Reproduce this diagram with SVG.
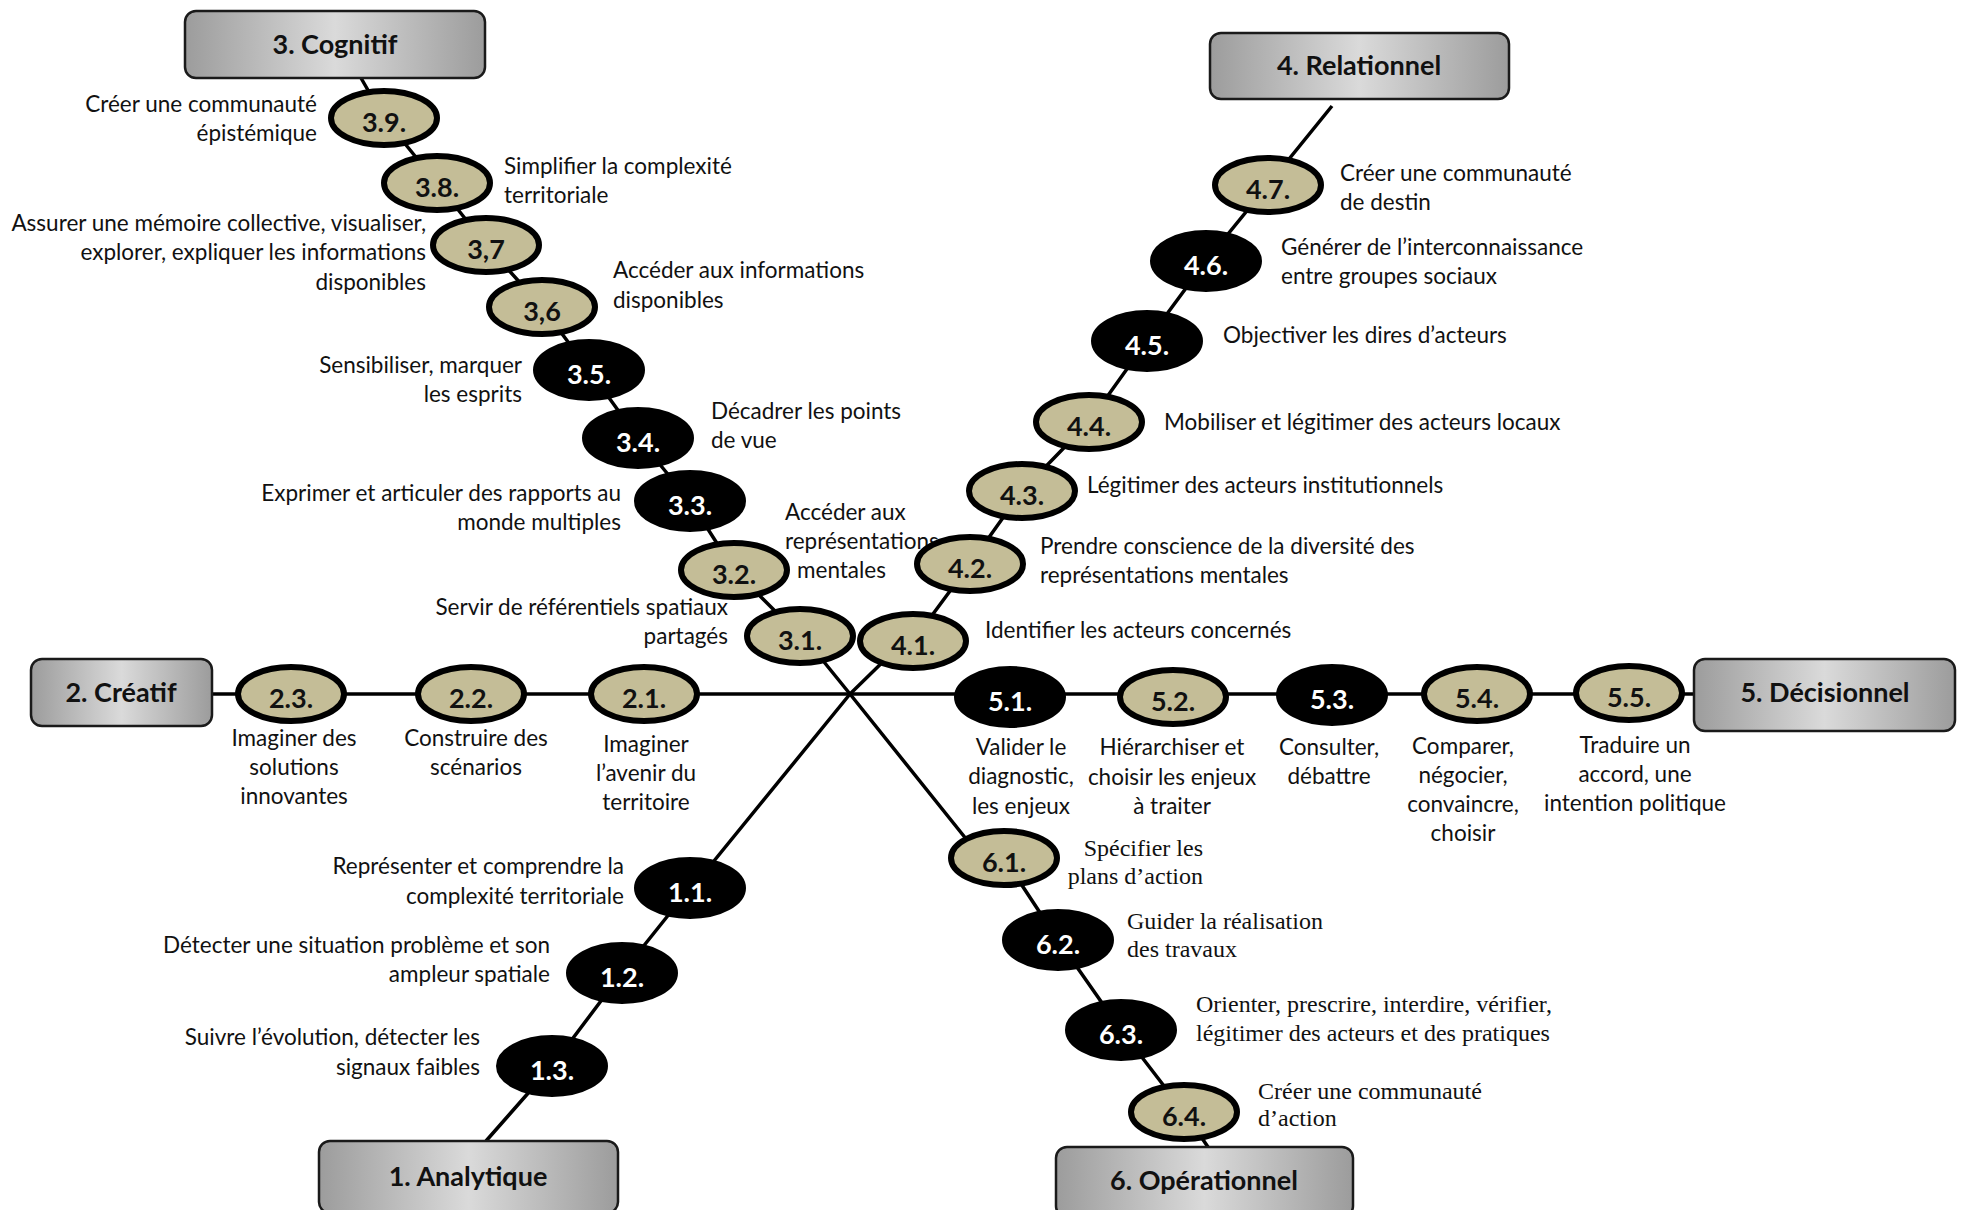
<svg xmlns="http://www.w3.org/2000/svg" width="1964" height="1210" viewBox="0 0 1964 1210">
<style>
.bg{fill:#ffffff}
.ln{fill:none;stroke:#000;stroke-width:3.5;stroke-linejoin:round}
.box{fill:url(#g);stroke:#1a1a1a;stroke-width:2.5}
.bt{font-family:Lato,"Liberation Sans",sans-serif;font-weight:700;font-size:27px;fill:#111;text-anchor:middle}
.tan{fill:#c4bd97;stroke:#000;stroke-width:6}
.blk{fill:#000;stroke:#000;stroke-width:2}
.nt{font-family:Lato,"Liberation Sans",sans-serif;font-weight:700;font-size:27px;fill:#111;text-anchor:middle}
.nw{font-family:Lato,"Liberation Sans",sans-serif;font-weight:700;font-size:27px;fill:#fff;text-anchor:middle}
.lb{font-family:Lato,"Liberation Sans",sans-serif;font-size:22.5px;fill:#111}
.tr{font-family:"Liberation Serif","Times New Roman",serif;font-size:24px;fill:#111}
.e{text-anchor:end}
.m{text-anchor:middle}
</style>
<defs>
<linearGradient id="g" x1="0" y1="0" x2="1" y2="0">
<stop offset="0" stop-color="#9c9c9c"/>
<stop offset="0.5" stop-color="#dadada"/>
<stop offset="1" stop-color="#9c9c9c"/>
</linearGradient>
</defs>
<rect class="bg" x="0" y="0" width="1964" height="1210"/>
<g id="connectors">
<line class="ln" x1="212" y1="694" x2="1694" y2="694"/>
<polyline class="ln" points="361,78 384,118 437,183 486,245 542,307 589,370 638,438 690,501 734,570 800,636 820,657 850,694 975,850 1004,858 1058,940 1121,1030 1184,1112 1208,1147"/>
<polyline class="ln" points="1332,106 1268,185 1206,261 1147,341 1089,422 1022,491 970,564 913,641 895,650 850,694 705,872 690,888 622,973 552,1066 486,1141"/>
</g>
<g id="box3"><rect class="box" x="185" y="11" width="300" height="67" rx="11"/><text class="bt" x="335" y="54">3. Cognitif</text></g>
<g id="box4"><rect class="box" x="1210" y="33" width="299" height="66" rx="11"/><text class="bt" x="1359" y="75">4. Relationnel</text></g>
<g id="box2"><rect class="box" x="31" y="659" width="181" height="67" rx="11"/><text class="bt" x="121" y="702">2. Créatif</text></g>
<g id="box5"><rect class="box" x="1694" y="659" width="261" height="72" rx="11"/><text class="bt" x="1825" y="702">5. Décisionnel</text></g>
<g id="box1"><rect class="box" x="319" y="1141" width="299" height="72" rx="11"/><text class="bt" x="468" y="1186">1. Analytique</text></g>
<g id="box6"><rect class="box" x="1056" y="1147" width="297" height="70" rx="11"/><text class="bt" x="1204" y="1190">6. Opérationnel</text></g>

<g id="n3_9"><ellipse class="tan" cx="384" cy="118" rx="53" ry="27"/><text class="nt" x="384" y="132">3.9.</text><text class="lb e" x="317" y="112">Créer une communauté</text><text class="lb e" x="317" y="141">épistémique</text></g>
<g id="n3_8"><ellipse class="tan" cx="437" cy="183" rx="53" ry="27"/><text class="nt" x="437" y="197">3.8.</text><text class="lb" x="504" y="174">Simplifier la complexité</text><text class="lb" x="504" y="203">territoriale</text></g>
<g id="n3_7"><ellipse class="tan" cx="486" cy="245" rx="53" ry="27"/><text class="nt" x="486" y="259">3,7</text><text class="lb e" x="426" y="231">Assurer une mémoire collective, visualiser,</text><text class="lb e" x="426" y="260">explorer, expliquer les informations</text><text class="lb e" x="426" y="290">disponibles</text></g>
<g id="n3_6"><ellipse class="tan" cx="542" cy="307" rx="53" ry="27"/><text class="nt" x="542" y="321">3,6</text><text class="lb" x="613" y="278">Accéder aux informations</text><text class="lb" x="613" y="308">disponibles</text></g>
<g id="n3_5"><ellipse class="blk" cx="589" cy="370" rx="55" ry="30"/><text class="nw" x="589" y="384">3.5.</text><text class="lb e" x="522" y="373">Sensibiliser, marquer</text><text class="lb e" x="522" y="402">les esprits</text></g>
<g id="n3_4"><ellipse class="blk" cx="638" cy="438" rx="55" ry="30"/><text class="nw" x="638" y="452">3.4.</text><text class="lb" x="711" y="419">Décadrer les points</text><text class="lb" x="711" y="448">de vue</text></g>
<g id="n3_3"><ellipse class="blk" cx="690" cy="501" rx="55" ry="30"/><text class="nw" x="690" y="515">3.3.</text><text class="lb e" x="621" y="501">Exprimer et articuler des rapports au</text><text class="lb e" x="621" y="530">monde multiples</text></g>
<g id="n3_2"><ellipse class="tan" cx="734" cy="570" rx="53" ry="27"/><text class="nt" x="734" y="584">3.2.</text><text class="lb" x="785" y="520">Accéder aux</text><text class="lb" x="785" y="549">représentations</text><text class="lb" x="797" y="578">mentales</text></g>
<g id="n3_1"><ellipse class="tan" cx="800" cy="636" rx="53" ry="27"/><text class="nt" x="800" y="650">3.1.</text><text class="lb e" x="728" y="615">Servir de référentiels spatiaux</text><text class="lb e" x="728" y="644">partagés</text></g>

<g id="n4_7"><ellipse class="tan" cx="1268" cy="185" rx="53" ry="27"/><text class="nt" x="1268" y="199">4.7.</text><text class="lb" x="1340" y="181">Créer une communauté</text><text class="lb" x="1340" y="210">de destin</text></g>
<g id="n4_6"><ellipse class="blk" cx="1206" cy="261" rx="55" ry="30"/><text class="nw" x="1206" y="275">4.6.</text><text class="lb" x="1281" y="255">Générer de l’interconnaissance</text><text class="lb" x="1281" y="284">entre groupes sociaux</text></g>
<g id="n4_5"><ellipse class="blk" cx="1147" cy="341" rx="55" ry="30"/><text class="nw" x="1147" y="355">4.5.</text><text class="lb" x="1223" y="343">Objectiver les dires d’acteurs</text></g>
<g id="n4_4"><ellipse class="tan" cx="1089" cy="422" rx="53" ry="27"/><text class="nt" x="1089" y="436">4.4.</text><text class="lb" x="1164" y="430">Mobiliser et légitimer des acteurs locaux</text></g>
<g id="n4_3"><ellipse class="tan" cx="1022" cy="491" rx="53" ry="27"/><text class="nt" x="1022" y="505">4.3.</text><text class="lb" x="1087" y="493">Légitimer des acteurs institutionnels</text></g>
<g id="n4_2"><ellipse class="tan" cx="970" cy="564" rx="53" ry="27"/><text class="nt" x="970" y="578">4.2.</text><text class="lb" x="1040" y="554">Prendre conscience de la diversité des</text><text class="lb" x="1040" y="583">représentations mentales</text></g>
<g id="n4_1"><ellipse class="tan" cx="913" cy="641" rx="53" ry="27"/><text class="nt" x="913" y="655">4.1.</text><text class="lb" x="985" y="638">Identifier les acteurs concernés</text></g>

<g id="n2_3"><ellipse class="tan" cx="291" cy="694" rx="53" ry="27"/><text class="nt" x="291" y="708">2.3.</text><text class="lb m" x="294" y="746">Imaginer des</text><text class="lb m" x="294" y="775">solutions</text><text class="lb m" x="294" y="804">innovantes</text></g>
<g id="n2_2"><ellipse class="tan" cx="471" cy="694" rx="53" ry="27"/><text class="nt" x="471" y="708">2.2.</text><text class="lb m" x="476" y="746">Construire des</text><text class="lb m" x="476" y="775">scénarios</text></g>
<g id="n2_1"><ellipse class="tan" cx="644" cy="694" rx="53" ry="27"/><text class="nt" x="644" y="708">2.1.</text><text class="lb m" x="646" y="752">Imaginer</text><text class="lb m" x="646" y="781">l’avenir du</text><text class="lb m" x="646" y="810">territoire</text></g>

<g id="n5_1"><ellipse class="blk" cx="1010" cy="697" rx="55" ry="30"/><text class="nw" x="1010" y="711">5.1.</text><text class="lb m" x="1021" y="755">Valider le</text><text class="lb m" x="1021" y="784">diagnostic,</text><text class="lb m" x="1021" y="814">les enjeux</text></g>
<g id="n5_2"><ellipse class="tan" cx="1173" cy="697" rx="53" ry="27"/><text class="nt" x="1173" y="711">5.2.</text><text class="lb m" x="1172" y="755">Hiérarchiser et</text><text class="lb m" x="1172" y="785">choisir les enjeux</text><text class="lb m" x="1172" y="814">à traiter</text></g>
<g id="n5_3"><ellipse class="blk" cx="1332" cy="695" rx="55" ry="30"/><text class="nw" x="1332" y="709">5.3.</text><text class="lb m" x="1329" y="755">Consulter,</text><text class="lb m" x="1329" y="784">débattre</text></g>
<g id="n5_4"><ellipse class="tan" cx="1477" cy="694" rx="53" ry="27"/><text class="nt" x="1477" y="708">5.4.</text><text class="lb m" x="1463" y="754">Comparer,</text><text class="lb m" x="1463" y="783">négocier,</text><text class="lb m" x="1463" y="812">convaincre,</text><text class="lb m" x="1463" y="841">choisir</text></g>
<g id="n5_5"><ellipse class="tan" cx="1629" cy="693" rx="53" ry="27"/><text class="nt" x="1629" y="707">5.5.</text><text class="lb m" x="1635" y="753">Traduire un</text><text class="lb m" x="1635" y="782">accord, une</text><text class="lb m" x="1635" y="811">intention politique</text></g>

<g id="n1_1"><ellipse class="blk" cx="690" cy="888" rx="55" ry="30"/><text class="nw" x="690" y="902">1.1.</text><text class="lb e" x="624" y="874">Représenter et comprendre la</text><text class="lb e" x="624" y="904">complexité territoriale</text></g>
<g id="n1_2"><ellipse class="blk" cx="622" cy="973" rx="55" ry="30"/><text class="nw" x="622" y="987">1.2.</text><text class="lb e" x="550" y="953">Détecter une situation problème et son</text><text class="lb e" x="550" y="982">ampleur spatiale</text></g>
<g id="n1_3"><ellipse class="blk" cx="552" cy="1066" rx="55" ry="30"/><text class="nw" x="552" y="1080">1.3.</text><text class="lb e" x="480" y="1045">Suivre l’évolution, détecter les</text><text class="lb e" x="480" y="1075">signaux faibles</text></g>

<g id="n6_1"><ellipse class="tan" cx="1004" cy="858" rx="53" ry="27"/><text class="nt" x="1004" y="872">6.1.</text><text class="tr e" x="1203" y="856">Spécifier les</text><text class="tr e" x="1203" y="884">plans d’action</text></g>
<g id="n6_2"><ellipse class="blk" cx="1058" cy="940" rx="55" ry="30"/><text class="nw" x="1058" y="954">6.2.</text><text class="tr" x="1127" y="929">Guider la réalisation</text><text class="tr" x="1127" y="957">des travaux</text></g>
<g id="n6_3"><ellipse class="blk" cx="1121" cy="1030" rx="55" ry="30"/><text class="nw" x="1121" y="1044">6.3.</text><text class="tr" x="1196" y="1012">Orienter, prescrire, interdire, vérifier,</text><text class="tr" x="1196" y="1041">légitimer des acteurs et des pratiques</text></g>
<g id="n6_4"><ellipse class="tan" cx="1184" cy="1112" rx="53" ry="27"/><text class="nt" x="1184" y="1126">6.4.</text><text class="tr" x="1258" y="1099">Créer une communauté</text><text class="tr" x="1258" y="1126">d’action</text></g>
</svg>
